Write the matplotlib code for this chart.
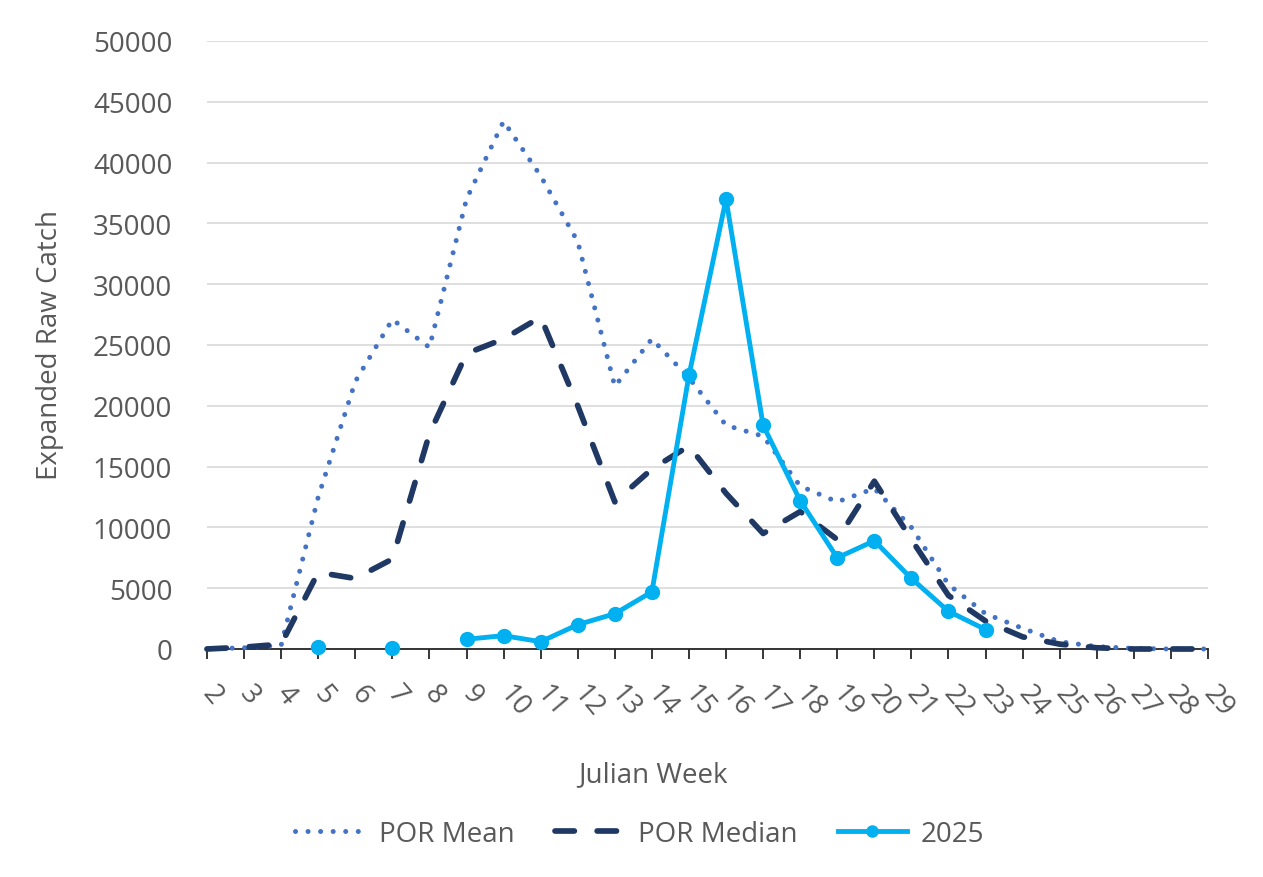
import numpy as np
import matplotlib
matplotlib.use("Agg")
import matplotlib.pyplot as plt

plt.rcParams['font.family'] = ['Open Sans', 'DejaVu Sans']

weeks = list(range(2, 30))
por_mean = [0, 100, 300, 12500, 22000, 27100, 24800, 37000, 43400, 38900, 33500,
            21600, 25500, 22300, 18400, 17500, 13400, 12100, 13200, 10000, 5300,
            2900, 1700, 600, 200, 50, 0, 0]
por_median = [0, 150, 400, 6300, 5800, 7400, 17700, 24300, 25500, 27300, 20000,
              12100, 14800, 16700, 12800, 9500, 11300, 9000, 13800, 9000, 4400,
              2300, 1000, 400, 100, 0, 0, 0]
y2025 = [np.nan, np.nan, np.nan, 200, np.nan, 100, np.nan, 800, 1100, 600, 2000,
         2900, 4700, 22500, 37000, 18400, 12200, 7500, 8900, 5800, 3100, 1600,
         np.nan, np.nan, np.nan, np.nan, np.nan, np.nan]
series_names = ["POR Mean", "POR Median", "2025"]
yticks = list(range(0, 50001, 5000))

W, H = 1263, 878
fig = plt.figure(figsize=(W / 100, H / 100), dpi=100)
ax = fig.add_axes([207 / W, 1 - 650 / H, 1001 / W, 608 / H])

gray = '#595959'

l1, = ax.plot(weeks, por_mean, color='#4472C4', lw=3.6, linestyle=(0, (0.01, 2.5)),
              dash_capstyle='round', zorder=3, clip_on=False, label=series_names[0])
l2, = ax.plot(weeks, por_median, color='#1F3864', lw=4.1, linestyle=(0, (3.4, 4.0)),
              dash_capstyle='round', zorder=4, clip_on=False, label=series_names[1])
l3, = ax.plot(weeks, y2025, color='#00B0F0', lw=3.5, marker='o', markersize=10,
              zorder=5, clip_on=False, label=series_names[2])

ax.set_xlim(2, 29)
ax.set_ylim(0, 50000)
ax.set_yticks(yticks)
ax.set_yticklabels([str(v) for v in yticks])
ax.set_xticks(weeks)
ax.set_xticklabels([str(w) for w in weeks], rotation=-50, ha='left', va='center',
                   rotation_mode='anchor')

ax.grid(axis='y', color='#D9D9D9', lw=1.2)
ax.set_axisbelow(True)
for s in ['left', 'right', 'top']:
    ax.spines[s].set_visible(False)
ax.spines['bottom'].set_color('#262626')
ax.spines['bottom'].set_linewidth(1.3)

ax.tick_params(axis='y', length=0, pad=25, labelsize=20, labelcolor=gray)
ax.tick_params(axis='x', direction='out', length=7.5, width=1.3, color='#262626',
               pad=21, labelsize=20, labelcolor=gray)

fig.text(653 / W, 1 - 775 / H, 'Julian Week', ha='center', va='center',
         fontsize=20, color=gray)
fig.text(50 / W, 1 - 345 / H, 'Expanded Raw Catch', ha='center', va='center',
         rotation=90, fontsize=20, color=gray)

leg = fig.legend(handles=[l1, l2, l3], loc='center', bbox_to_anchor=(640 / W, 1 - 835 / H),
                 ncol=3, frameon=False, fontsize=20, handlelength=2.5,
                 handletextpad=0.5, columnspacing=1.45)
for t in leg.get_texts():
    t.set_color(gray)
for h in leg.legend_handles:
    if h.get_marker() == 'o':
        h.set_markersize(8)

fig.savefig('out.png', dpi=100)
